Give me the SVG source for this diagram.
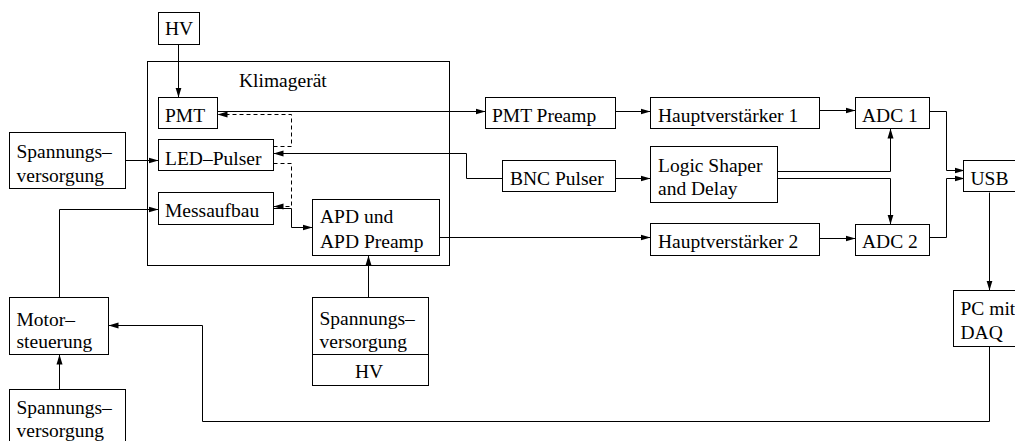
<svg xmlns="http://www.w3.org/2000/svg" width="1015" height="441" viewBox="0 0 1015 441">
<defs>
<marker id="ah" markerUnits="userSpaceOnUse" markerWidth="11" markerHeight="7" refX="10" refY="3.5" orient="auto">
<path d="M0,0.5 L10,3.5 L0,6.5 z" fill="#000"/>
</marker>
<style>
.box{fill:#fff;stroke:#000;stroke-width:1}
.t{font-family:"Liberation Serif","Times New Roman",serif;font-size:19.5px;fill:#000}
.c{fill:none;stroke:#000;stroke-width:1}
.a{marker-end:url(#ah)}
.d{stroke-dasharray:4,3}
</style>
</defs>
<rect width="1015" height="441" fill="#fff"/>
<g id="klimageraet">
<rect class="box" x="147.5" y="61.5" width="302" height="204"/>
<text class="t" x="239" y="87">Klimagerät</text>
</g>
<g id="connectors">
<path class="c a" d="M178.5,44.5 V97.5"/>
<path class="c a" d="M125.5,160.5 H158.5"/>
<path class="c a" d="M59.5,297.5 V209.5 H158.5"/>
<path class="c a" d="M59.5,389.5 V354.5"/>
<path class="c a" d="M989.5,346.5 V421.5 H202.5 V325.5 H108.5"/>
<path class="c a" d="M368.5,297.5 V255.5"/>
<path class="c a" d="M217.5,111.5 H485.5"/>
<path class="c a" d="M615.5,111.5 H650.5"/>
<path class="c a" d="M819.5,110.5 H855.5"/>
<path class="c a" d="M929.5,111.5 H946.5 V170.5 H964.5"/>
<path class="c a" d="M502.5,178.5 H466.5 V153.5 H273.5"/>
<path class="c a" d="M615.5,178.5 H650.5"/>
<path class="c a" d="M777.5,171.5 H890.5 V128.5"/>
<path class="c a" d="M777.5,178.5 H890.5 V224.5"/>
<path class="c a" d="M439.5,237.5 H650.5"/>
<path class="c a" d="M819.5,238.5 H855.5"/>
<path class="c a" d="M929.5,237.5 H946.5 V178.5 H964.5"/>
<path class="c a" d="M989.5,192.5 V290.5"/>
<path class="c a" d="M273.5,208.5 H291.5 V227.5 H312.5"/>
<path class="c d a" d="M273.5,146.5 H291.5 V114.5 H217.5"/>
<path class="c d a" d="M273.5,163.5 H291.5 V206.5 H273.5"/>
</g>
<g id="hv-top">
<rect class="box" x="158.5" y="12.5" width="41" height="32"/>
<text class="t" x="179" y="35" text-anchor="middle">HV</text>
</g>
<g id="pmt">
<rect class="box" x="158.5" y="97.5" width="59" height="31"/>
<text class="t" x="165" y="121.5">PMT</text>
</g>
<g id="led-pulser">
<rect class="box" x="158.5" y="139.5" width="115" height="31"/>
<text class="t" x="165" y="164.5">LED–Pulser</text>
</g>
<g id="messaufbau">
<rect class="box" x="158.5" y="192.5" width="115" height="32"/>
<text class="t" x="165" y="216.5">Messaufbau</text>
</g>
<g id="apd">
<rect class="box" x="312.5" y="199.5" width="127" height="56"/>
<text class="t" x="320" y="223">APD und</text>
<text class="t" x="320" y="248">APD Preamp</text>
</g>
<g id="spannung1">
<rect class="box" x="9.5" y="132.5" width="116" height="56"/>
<text class="t" x="16.5" y="158">Spannungs–</text>
<text class="t" x="16.5" y="182">versorgung</text>
</g>
<g id="motorsteuerung">
<rect class="box" x="9.5" y="297.5" width="99" height="57"/>
<text class="t" x="16.5" y="326">Motor–</text>
<text class="t" x="16.5" y="348">steuerung</text>
</g>
<g id="spannung3">
<rect class="box" x="9.5" y="389.5" width="116" height="60"/>
<text class="t" x="16.5" y="414">Spannungs–</text>
<text class="t" x="16.5" y="437">versorgung</text>
</g>
<g id="spannung-hv">
<rect class="box" x="312.5" y="297.5" width="116" height="88"/>
<path class="c" d="M312.5,354.5 H428.5"/>
<text class="t" x="319.5" y="325">Spannungs–</text>
<text class="t" x="319.5" y="348">versorgung</text>
<text class="t" x="369" y="378" text-anchor="middle">HV</text>
</g>
<g id="pmt-preamp">
<rect class="box" x="485.5" y="97.5" width="130" height="31"/>
<text class="t" x="492" y="121.5">PMT Preamp</text>
</g>
<g id="hauptverstaerker1">
<rect class="box" x="650.5" y="97.5" width="169" height="31"/>
<text class="t" x="658" y="121.5">Hauptverstärker 1</text>
</g>
<g id="adc1">
<rect class="box" x="855.5" y="97.5" width="74" height="31"/>
<text class="t" x="862" y="121.5">ADC 1</text>
</g>
<g id="bnc-pulser">
<rect class="box" x="502.5" y="160.5" width="113" height="31"/>
<text class="t" x="510" y="184.5">BNC Pulser</text>
</g>
<g id="logic-shaper">
<rect class="box" x="650.5" y="146.5" width="127" height="56"/>
<text class="t" x="658" y="171.5">Logic Shaper</text>
<text class="t" x="658" y="195">and Delay</text>
</g>
<g id="hauptverstaerker2">
<rect class="box" x="650.5" y="223.5" width="169" height="32"/>
<text class="t" x="658" y="248">Hauptverstärker 2</text>
</g>
<g id="adc2">
<rect class="box" x="855.5" y="224.5" width="74" height="31"/>
<text class="t" x="862" y="248">ADC 2</text>
</g>
<g id="usb">
<rect class="box" x="963.5" y="160.5" width="70" height="31"/>
<text class="t" x="970.5" y="185">USB</text>
</g>
<g id="pc">
<rect class="box" x="953.5" y="290.5" width="80" height="56"/>
<text class="t" x="960.5" y="315">PC mit</text>
<text class="t" x="960.5" y="339">DAQ</text>
</g>
</svg>
